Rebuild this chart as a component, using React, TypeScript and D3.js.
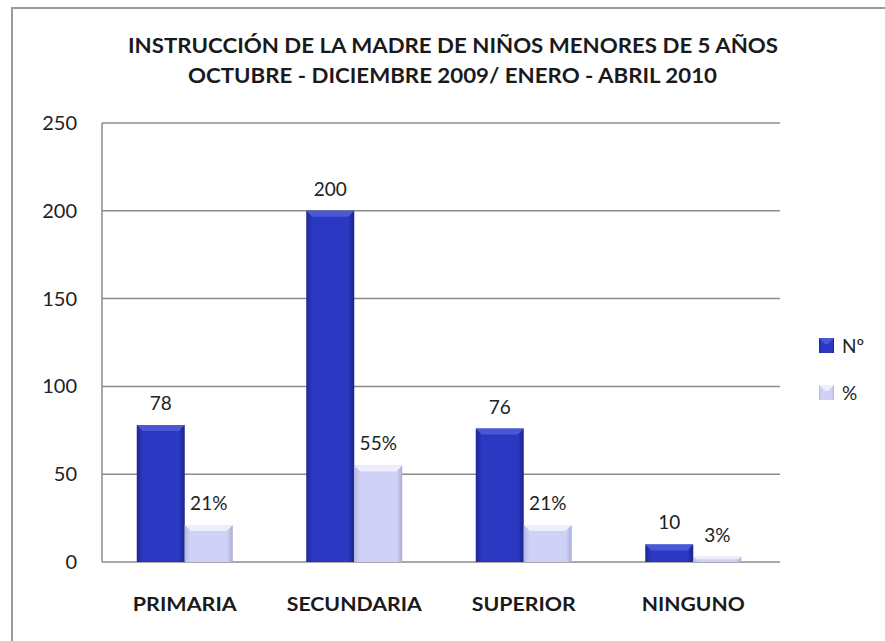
import React from "react";
import * as d3 from "d3";

const categories = ["PRIMARIA", "SECUNDARIA", "SUPERIOR", "NINGUNO"];
const countValues = [78, 200, 76, 10];
const percentValues = [21, 55, 21, 3];
const percentLabels = ["21%", "55%", "21%", "3%"];
const yTicks = [0, 50, 100, 150, 200, 250];
const titleLines = [
  "INSTRUCCIÓN DE  LA MADRE DE NIÑOS MENORES DE 5 AÑOS",
  "OCTUBRE - DICIEMBRE  2009/ ENERO - ABRIL 2010",
];
const legendLabels = ["Nº", "%"];

const W = 885;
const H = 641;
const FONT = "Lato, 'Open Sans', sans-serif";

export default function App() {
  const plotLeft = 102;
  const plotRight = 780;
  const plotTop = 123;
  const plotBottom = 562;

  const x = d3.scaleBand<string>().domain(categories).range([plotLeft, plotRight]);
  const y = d3.scaleLinear().domain([0, 250]).range([plotBottom, plotTop]);
  const barW = 48;

  const titleSpans = [
    [128, 778],
    [188, 717],
  ];
  const labelWidths: Record<string, number> = {
    PRIMARIA: 104,
    SECUNDARIA: 135,
    SUPERIOR: 104,
    NINGUNO: 103,
  };

  const bevel = (bx: number, by: number, bw: number, bh: number, top: string, kind: string) => {
    const b = Math.min(6, bh / 2);
    return (
      <g>
        <rect x={bx} y={by} width={bw} height={bh} fill={`url(#grad-${kind})`} />
        <polygon
          points={`${bx},${by} ${bx + bw},${by} ${bx + bw - b},${by + b} ${bx + b},${by + b}`}
          fill={top}
        />
      </g>
    );
  };

  return (
    <svg
      width={W}
      height={H}
      style={{ position: "absolute", left: 0, top: 0, background: "#fff" }}
    >
      <defs>
        <linearGradient id="grad-blue" x1="0" x2="1" y1="0" y2="0">
          <stop offset="0" stopColor="#1c2794" />
          <stop offset="0.12" stopColor="#2a38c2" />
          <stop offset="0.88" stopColor="#2a38c2" />
          <stop offset="1" stopColor="#1a2488" />
        </linearGradient>
        <linearGradient id="grad-light" x1="0" x2="1" y1="0" y2="0">
          <stop offset="0" stopColor="#b4b8e2" />
          <stop offset="0.12" stopColor="#cfd2f6" />
          <stop offset="0.88" stopColor="#cfd2f6" />
          <stop offset="1" stopColor="#a9add6" />
        </linearGradient>
      </defs>
      <rect x={0} y={0} width={W} height={H} fill="#fff" />
      {/* outer border */}
      <rect x={12} y={8} width={W + 20} height={H + 20} fill="none" stroke="#9a9a9a" strokeWidth={2} />

      {/* title */}
      {titleLines.map((t, i) => (
        <text
          key={i}
          x={titleSpans[i][0]}
          y={53 + i * 30}
          textLength={titleSpans[i][1] - titleSpans[i][0]}
          lengthAdjust="spacingAndGlyphs"
          fontFamily={FONT}
          fontSize={20}
          fontWeight={700}
          fill="#1a1a1a"
        >
          {t}
        </text>
      ))}

      {/* gridlines */}
      {yTicks.map((t) => (
        <g key={t}>
          <line x1={plotLeft} x2={plotRight} y1={y(t)} y2={y(t)} stroke="#8c8c8c" strokeWidth={1.5} />
          <text
            x={77}
            y={y(t) + 7}
            textAnchor="end"
            fontFamily={FONT}
            fontSize={20}
            fill="#222"
          >
            {t}
          </text>
        </g>
      ))}
      <line x1={plotLeft} x2={plotLeft} y1={plotTop} y2={plotBottom} stroke="#8c8c8c" strokeWidth={1.5} />

      {/* bars */}
      {categories.map((c, i) => {
        const cx = (x(c) as number) + x.bandwidth() / 2 - 2;
        const bx1 = cx - barW;
        const bx2 = cx;
        const y1 = y(countValues[i]);
        const y2 = y(percentValues[i]);
        return (
          <g key={c}>
            {bevel(bx1, y1, barW, plotBottom - y1, "#4a58d8", "blue")}
            {bevel(bx2, y2, barW, plotBottom - y2, "#eceefe", "light")}
            <text
              x={bx1 + barW / 2}
              y={y1 - 15}
              textAnchor="middle"
              fontFamily={FONT}
              fontSize={19}
              fill="#222"
            >
              {countValues[i]}
            </text>
            <text
              x={bx2 + barW / 2}
              y={y2 - 15}
              textAnchor="middle"
              fontFamily={FONT}
              fontSize={19}
              fill="#222"
            >
              {percentLabels[i]}
            </text>
            <text
              x={cx - labelWidths[c] / 2}
              y={611}
              textLength={labelWidths[c]}
              lengthAdjust="spacingAndGlyphs"
              fontFamily={FONT}
              fontSize={19}
              fontWeight={700}
              fill="#1a1a1a"
            >
              {c}
            </text>
          </g>
        );
      })}

      {/* legend */}
      {legendLabels.map((l, i) => (
        <g key={l} transform={`translate(819, ${338 + i * 47})`}>
          {bevel(0, 0, 15, 15, i === 0 ? "#4a58d8" : "#eceefe", i === 0 ? "blue" : "light")}
          <text x={23} y={15} fontFamily={FONT} fontSize={19} fill="#222">
            {l}
          </text>
        </g>
      ))}
    </svg>
  );
}
